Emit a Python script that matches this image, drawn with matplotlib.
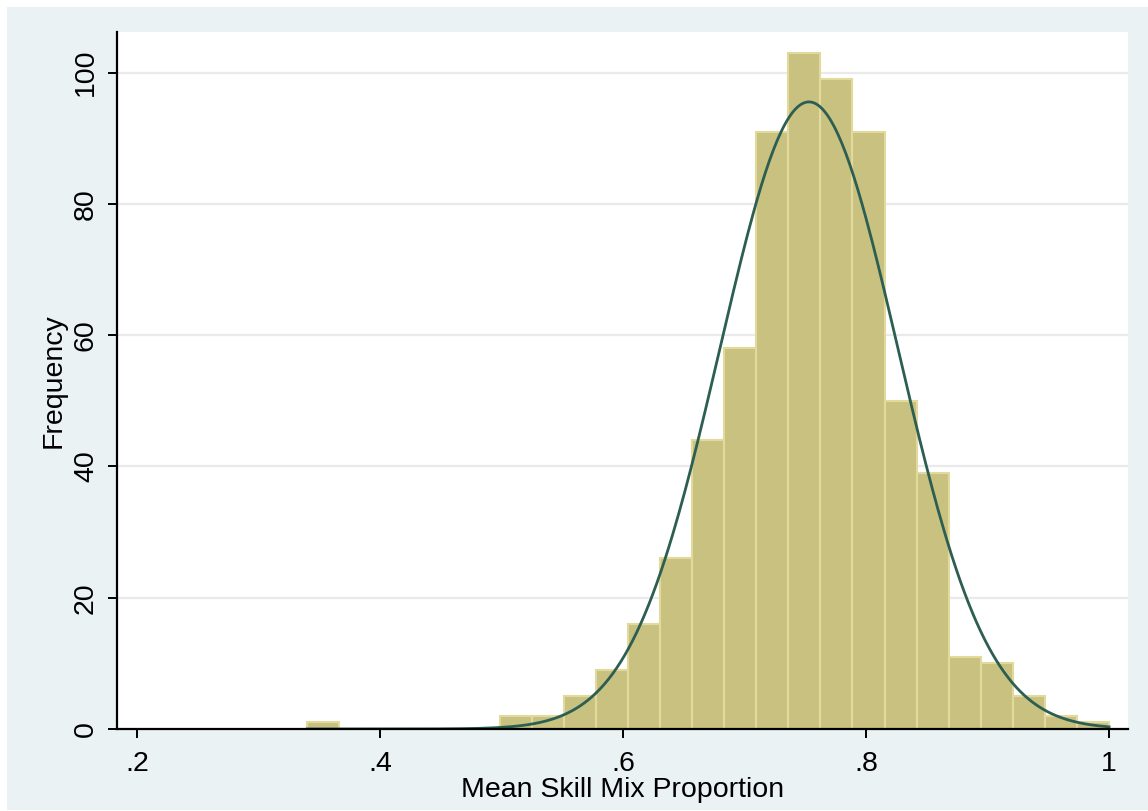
import numpy as np
import matplotlib
matplotlib.use("Agg")
import matplotlib.pyplot as plt
from matplotlib.patches import Rectangle

plt.rcParams['font.family'] = ['Liberation Sans', 'DejaVu Sans']

# Histogram data
bin_start = 0.34
bin_width = 0.0264
counts = [1, 0, 0, 0, 0, 0, 2, 2, 5, 9, 16, 26, 44, 58, 91, 103, 99, 91, 50, 39, 11, 10, 5, 2, 1]

# Normal overlay parameters
curve_mean = 0.753
curve_sd = 0.0733
n_obs = sum(counts)

x_ticks = [0.2, 0.4, 0.6, 0.8, 1.0]
x_tick_labels = ['.2', '.4', '.6', '.8', '1']
y_ticks = [0, 20, 40, 60, 80, 100]
y_tick_labels = ['0', '20', '40', '60', '80', '100']
x_label = 'Mean Skill Mix Proportion'
y_label = 'Frequency'

W, H = 1148, 811
fig = plt.figure(figsize=(W / 100, H / 100), dpi=100)
fig.patch.set_facecolor('white')
fig.patches.append(Rectangle((7 / W, 1 / H), (1148 - 7) / W, (810 - 7) / H,
                             transform=fig.transFigure, facecolor='#EAF2F3',
                             edgecolor='none', zorder=-10))

ax = fig.add_axes([117 / W, 1 - 729 / H, (1128 - 117) / W, (729 - 32) / H])
ax.set_facecolor('white')

edges = [bin_start + i * bin_width for i in range(len(counts) + 1)]
lefts = edges[:-1]
ax.bar(lefts, counts, width=bin_width, align='edge', color='#C9C17F',
       edgecolor='#E2D99C', linewidth=1.5, zorder=2)

xs = np.linspace(bin_start, edges[-1], 400)
ys = n_obs * bin_width / (curve_sd * np.sqrt(2 * np.pi)) * np.exp(-0.5 * ((xs - curve_mean) / curve_sd) ** 2)
ax.plot(xs, ys, color='#2D5E52', linewidth=2.0, zorder=3)

ax.set_xlim(0.1835, 1.0156)
ax.set_ylim(0, 106.2)

for yv in y_ticks[1:]:
    ax.axhline(yv, color='#EAEAEA', linewidth=1.6, zorder=1)

ax.set_xticks(x_ticks)
ax.set_xticklabels(x_tick_labels)
ax.set_yticks(y_ticks)
ax.set_yticklabels(y_tick_labels, rotation=90, va='center')

ax.tick_params(axis='both', direction='out', length=6.5, width=1.4, colors='black',
               labelsize=20.5)
ax.tick_params(axis='x', pad=9)
ax.tick_params(axis='y', pad=6.5)

for s in ['top', 'right']:
    ax.spines[s].set_visible(False)
for s in ['left', 'bottom']:
    ax.spines[s].set_linewidth(1.6)
    ax.spines[s].set_color('black')
    ax.spines[s].set_zorder(4)

ax.set_xlabel(x_label, fontsize=20.5, labelpad=0)
ax.set_ylabel(y_label, fontsize=20.5, labelpad=4.5)

fig.savefig('out.png', dpi=100, facecolor=fig.get_facecolor())
